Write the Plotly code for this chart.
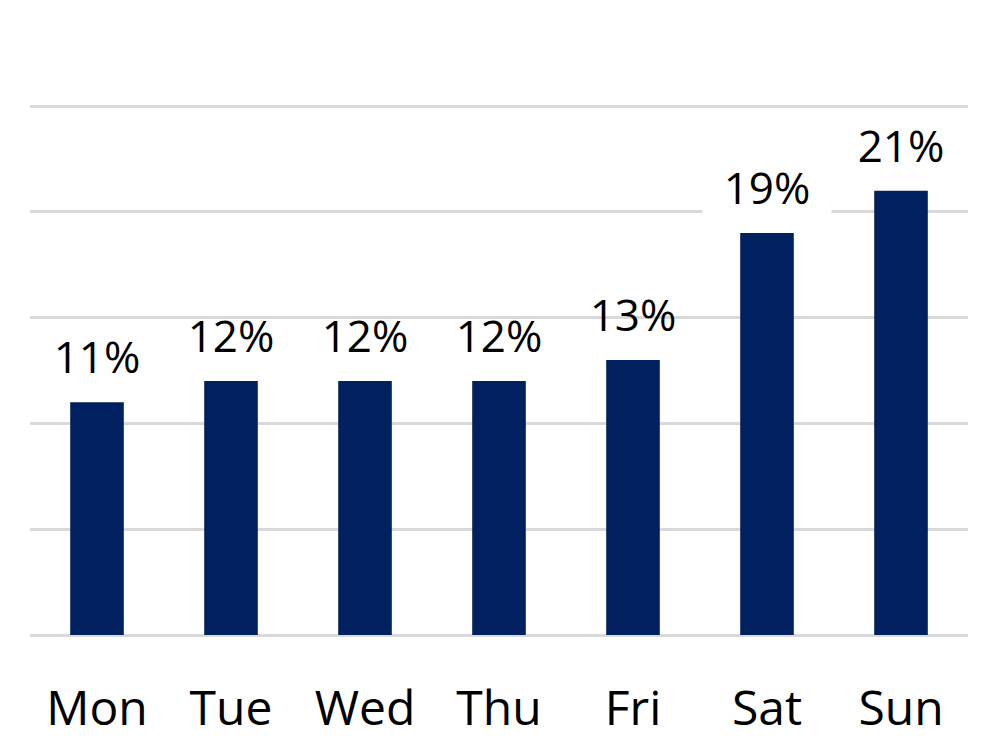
import plotly.graph_objects as go

DAYS = ["Mon", "Tue", "Wed", "Thu", "Fri", "Sat", "Sun"]
SHARE = [11, 12, 12, 12, 13, 19, 21]
LABELS = ["11%", "12%", "12%", "12%", "13%", "19%", "21%"]

NAVY = "#002060"
GRID = "#d9d9d9"
FONT = "Open Sans"

fig = go.Figure()
fig.add_trace(go.Bar(x=DAYS, y=SHARE, marker_color=NAVY, marker_line_width=0))

# data labels; only the Sat label blanks out the gridline behind it
for d, v, t in zip(DAYS, SHARE, LABELS):
    fig.add_annotation(
        x=d, y=v, text=t, showarrow=False,
        yanchor="bottom", yshift=12,
        font=dict(family=FONT, size=44, color="#000000"),
        bgcolor="white" if d == "Sat" else "rgba(0,0,0,0)",
        borderpad=3, width=122,
    )

fig.update_layout(
    width=1000, height=750,
    margin=dict(l=22, r=40, t=97, b=123, autoexpand=False),
    plot_bgcolor="white", paper_bgcolor="white",
    bargap=0.6, showlegend=False,
)
fig.update_xaxes(
    showgrid=False, showline=False, zeroline=False, automargin=False,
    tickfont=dict(family=FONT, size=48, color="#000000"),
    ticklabelstandoff=41,
)
fig.update_yaxes(
    range=[0, 25.05], tickvals=[0, 5, 10, 15, 20, 25], showticklabels=False,
    automargin=False,
    showgrid=True, gridcolor=GRID, gridwidth=3,
    zeroline=True, zerolinecolor=GRID, zerolinewidth=3,
)

fig.write_html("out.html")
